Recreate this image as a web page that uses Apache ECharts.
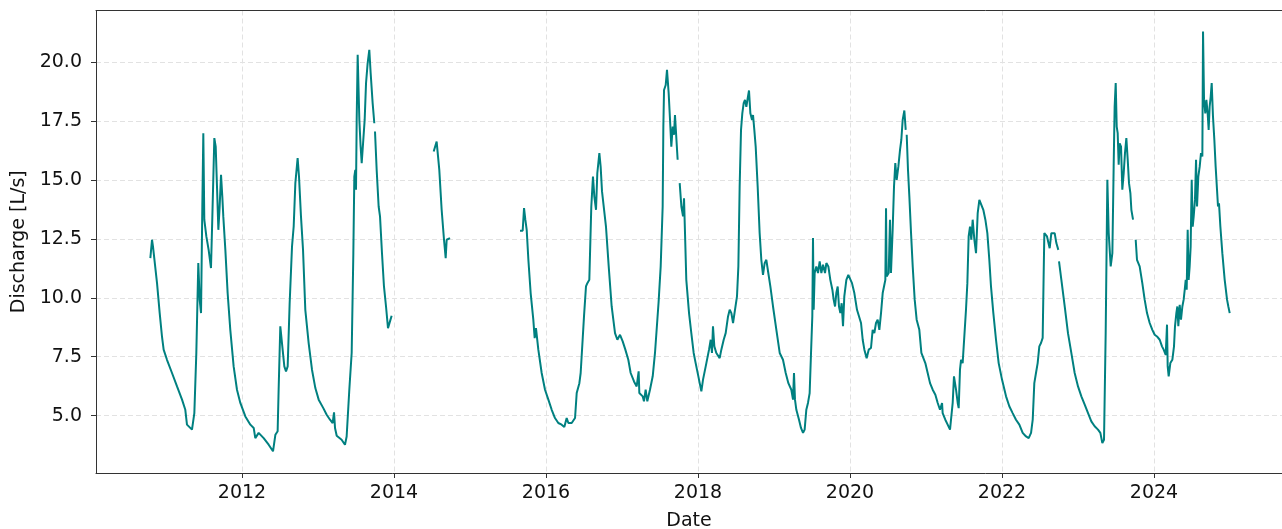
<!DOCTYPE html>
<html><head><meta charset="utf-8">
<script src="https://cdn.jsdelivr.net/npm/echarts@6/dist/echarts.min.js"></script>
<style>html,body{margin:0;padding:0;background:#fff}#c{width:1282px;height:529px}</style>
</head><body><div id="c"></div>
<script>
const xTicks = [2012, 2014, 2016, 2018, 2020, 2022, 2024];
const yTicks = [5, 7.5, 10, 12.5, 15, 17.5, 20];

// decimal years; null marks a gap in the record
const years = [
2010.794,2010.816,2010.829,2010.882,2010.917,2010.947,2010.969,2011.013,2011.079,2011.145,2011.211,2011.254,2011.276,2011.342,2011.373,2011.399,2011.425,2011.443,2011.461,2011.478,2011.491,2011.504,2011.531,2011.561,2011.592,2011.610,2011.636,2011.654,2011.671,2011.689,2011.706,2011.724,2011.741,2011.754,2011.781,2011.811,2011.846,2011.890,2011.934,2011.978,2012.044,2012.110,2012.154,2012.175,2012.219,2012.285,2012.351,2012.408,2012.439,2012.469,2012.482,2012.504,2012.526,2012.557,2012.579,2012.601,2012.627,2012.658,2012.680,2012.702,2012.732,2012.750,2012.776,2012.803,2012.833,2012.877,2012.921,2012.965,2013.009,
2013.070,2013.114,2013.158,2013.193,2013.211,2013.224,2013.246,2013.311,2013.355,2013.377,2013.412,2013.443,2013.465,2013.478,2013.491,2013.500,2013.509,2013.522,2013.544,2013.561,2013.575,2013.596,2013.614,2013.632,2013.653,2013.675,2013.693,2013.719,2013.741,2013.745,2013.750,2013.772,2013.798,2013.816,2013.842,2013.868,2013.895,2013.921,2013.947,2013.969,2014.2,
2014.522,2014.561,2014.575,2014.596,2014.627,2014.658,2014.680,2014.693,2014.737,2015.2,
2015.658,2015.693,2015.711,2015.728,2015.746,2015.768,2015.798,2015.833,2015.851,2015.868,2015.899,2015.943,2015.987,2016.031,2016.075,2016.118,2016.162,2016.206,2016.241,2016.272,2016.294,2016.338,2016.382,2016.404,2016.439,2016.456,2016.482,2016.500,2016.526,2016.544,2016.570,2016.596,2016.618,2016.636,2016.658,2016.675,2016.702,2016.719,2016.737,2016.763,2016.789,2016.825,2016.864,2016.908,2016.939,2016.974,2017.009,2017.044,2017.083,2017.114,2017.158,2017.193,2017.219,2017.228,2017.272,2017.289,2017.311,2017.333,2017.368,2017.404,2017.434,2017.465,2017.482,2017.509,2017.535,2017.544,2017.553,2017.575,2017.592,2017.614,2017.632,2017.649,2017.667,2017.684,2017.697,2017.711,2017.732,2017.745,
2017.759,2017.781,2017.803,2017.816,2017.829,2017.846,2017.882,2017.912,2017.943,2017.969,2018.000,2018.022,2018.044,2018.066,2018.110,2018.145,2018.167,2018.184,2018.197,2018.215,2018.241,2018.263,2018.285,2018.307,2018.338,2018.364,2018.395,2018.417,2018.439,2018.461,2018.487,2018.513,2018.531,2018.548,2018.566,2018.583,2018.601,2018.618,2018.636,2018.654,2018.671,2018.689,2018.711,2018.724,2018.741,2018.759,2018.785,2018.811,2018.833,2018.855,2018.877,2018.899,2018.925,2018.952,2018.987,2019.031,2019.075,2019.118,2019.154,2019.189,2019.228,2019.250,2019.263,2019.276,2019.294,2019.329,2019.355,2019.382,2019.403,2019.425,2019.447,2019.469,2019.487,2019.504,2019.513,2019.522,2019.535,2019.557,2019.579,2019.601,2019.623,2019.645,2019.671,2019.689,2019.715,2019.741,2019.768,2019.785,2019.803,2019.820,2019.838,2019.855,2019.873,2019.890,2019.908,2019.925,2019.952,2019.978,2020.000,2020.026,2020.057,2020.092,
2020.145,2020.167,2020.189,2020.219,2020.246,2020.276,2020.298,2020.320,2020.342,2020.364,2020.386,2020.408,2020.430,2020.452,2020.465,2020.474,2020.482,2020.509,2020.526,2020.539,2020.561,2020.579,2020.596,2020.614,2020.636,2020.658,2020.675,2020.693,2020.715,2020.733,2020.740,
2020.746,2020.763,2020.781,2020.803,2020.825,2020.851,2020.877,2020.912,2020.939,2020.965,2020.991,2021.022,2021.053,2021.088,2021.123,2021.154,2021.184,2021.211,2021.219,2021.254,2021.285,2021.316,2021.333,2021.351,2021.368,2021.395,2021.417,2021.430,2021.447,2021.461,2021.482,2021.504,2021.526,2021.544,2021.561,2021.579,2021.596,2021.614,2021.636,2021.658,2021.680,2021.702,2021.728,2021.754,2021.781,2021.807,2021.833,2021.855,2021.886,2021.921,2021.956,2022.000,2022.053,2022.096,2022.140,2022.184,2022.228,2022.272,2022.316,2022.351,2022.382,2022.404,2022.425,2022.447,2022.469,2022.491,2022.513,2022.535,2022.548,
2022.557,2022.575,2022.592,2022.610,2022.627,2022.649,2022.671,2022.693,2022.715,2022.741,2022.745,
2022.750,2022.781,2022.825,2022.868,2022.912,2022.956,2023.000,2023.044,2023.088,2023.132,2023.175,2023.219,2023.263,2023.294,2023.320,2023.342,2023.364,2023.386,2023.404,2023.430,2023.452,2023.469,2023.482,2023.496,2023.509,2023.522,2023.535,2023.548,2023.566,2023.583,2023.601,2023.618,2023.636,2023.654,2023.671,2023.689,2023.702,2023.724,2023.742,
2023.759,2023.776,2023.811,2023.846,2023.877,2023.908,2023.943,2023.978,2024.009,2024.039,2024.075,2024.105,2024.127,2024.154,2024.171,2024.180,2024.193,2024.215,2024.241,2024.263,2024.276,2024.294,2024.307,2024.320,2024.338,2024.355,2024.373,2024.390,2024.404,2024.417,2024.430,2024.443,2024.456,2024.469,2024.482,2024.496,2024.509,2024.522,2024.539,2024.553,2024.566,2024.583,2024.601,2024.618,2024.636,2024.645,2024.658,2024.675,2024.689,2024.706,2024.719,2024.732,2024.746,2024.759,2024.776,2024.794,2024.811,2024.829,2024.842,2024.855,2024.873,2024.899,2024.930,2024.961,2024.978,2024.996
];

// discharge [L/s]
const discharge = [
11.68,12.46,12.17,10.62,9.35,8.36,7.80,7.37,6.81,6.24,5.68,5.25,4.62,4.41,5.11,7.66,11.47,9.92,9.35,13.87,16.98,13.31,12.60,12.03,11.26,13.45,16.77,16.41,14.72,12.88,13.87,15.21,14.29,13.45,12.03,10.20,8.64,7.09,6.10,5.54,4.97,4.62,4.48,4.05,4.27,4.05,3.77,3.49,4.19,4.34,6.10,8.79,8.08,7.09,6.88,7.09,9.77,12.17,13.02,14.86,15.92,15.14,13.45,12.03,9.49,8.08,6.95,6.17,5.68,
5.32,5.04,4.83,4.69,5.14,4.48,4.15,3.98,3.77,4.12,6.10,7.66,11.89,15.14,15.42,14.58,17.54,20.30,17.54,16.41,15.71,16.69,17.54,19.10,19.94,20.51,19.52,18.25,17.40,null,17.05,15.42,13.87,13.45,11.89,10.48,9.63,8.71,9.00,9.24,null,
16.20,16.62,16.69,15.42,13.73,12.46,11.68,12.46,12.53,null,
12.84,12.84,13.80,13.31,12.88,11.61,10.20,9.07,8.29,8.71,7.80,6.81,6.10,5.68,5.25,4.90,4.69,4.62,4.52,4.90,4.69,4.69,4.90,5.96,6.38,6.81,8.22,9.21,10.48,10.62,10.76,13.87,15.14,14.29,13.73,15.28,16.13,15.56,14.51,14.44,13.02,11.33,9.63,8.50,8.22,8.43,8.15,7.80,7.37,6.81,6.45,6.24,6.88,5.96,5.82,5.61,6.10,5.61,6.10,6.67,7.66,9.07,9.84,11.33,13.87,17.26,18.81,19.02,19.66,18.67,17.54,16.41,17.26,16.91,17.75,16.98,15.85,null,
14.86,13.87,13.45,14.22,12.74,10.76,9.35,8.50,7.66,7.23,6.74,6.81,6.03,6.53,7.23,7.80,8.22,7.66,8.79,7.94,7.66,7.73,7.44,7.80,8.22,8.50,9.21,9.49,9.35,8.93,8.93,10.06,11.33,14.72,17.12,17.82,18.25,18.39,18.10,18.46,18.79,17.82,17.54,17.75,17.12,16.41,14.72,12.74,11.61,10.97,11.47,11.61,11.05,10.48,9.63,8.64,7.66,7.37,6.81,6.38,6.10,5.68,6.81,5.68,5.25,4.83,4.48,4.27,4.41,5.25,5.54,5.96,7.66,9.21,12.53,9.49,11.05,11.33,11.05,11.54,11.05,11.40,11.05,11.47,11.33,10.76,10.34,9.92,9.63,10.20,10.48,9.63,9.35,9.77,8.79,10.06,10.76,10.97,10.90,10.62,10.20,9.49,
8.93,8.22,7.80,7.44,7.80,7.87,8.64,8.50,8.93,9.07,8.64,9.35,10.20,10.55,10.76,13.80,10.90,11.05,13.31,11.05,12.88,14.72,15.71,15.00,15.56,16.27,16.69,17.54,17.94,17.12,null,
16.91,15.42,14.29,12.74,11.33,9.92,9.07,8.64,7.66,7.66,7.23,6.81,6.38,6.10,5.89,5.54,5.25,5.54,5.11,4.83,4.62,4.41,4.34,5.54,6.67,6.10,5.54,5.32,6.95,7.37,7.23,8.36,9.49,10.62,12.60,13.02,12.46,13.31,12.46,11.89,13.59,14.15,14.08,13.73,13.31,12.74,11.61,10.48,9.35,8.22,7.23,6.53,5.82,5.40,5.11,4.83,4.62,4.27,4.12,4.05,4.27,4.83,6.38,6.81,7.23,7.94,8.08,8.30,11.00,
12.74,12.81,12.60,12.67,12.10,12.74,12.81,12.74,12.32,12.03,null,
11.54,10.76,9.63,8.50,7.66,6.81,6.24,5.82,5.47,5.11,4.76,4.55,4.41,4.27,3.84,3.98,8.50,15.00,12.74,11.33,11.89,15.56,18.11,19.10,17.26,16.98,15.64,16.55,16.41,14.58,15.28,16.13,16.77,15.85,14.86,14.44,13.73,13.31,null,
12.46,11.61,11.33,10.62,9.92,9.35,8.93,8.64,8.43,8.36,8.22,7.94,7.80,7.58,8.86,7.09,6.67,7.23,7.37,7.94,8.79,9.35,9.63,8.79,9.70,9.07,9.63,9.92,10.34,10.76,10.34,12.88,10.76,11.33,12.17,15.00,13.02,13.45,14.15,15.85,13.87,15.14,15.56,16.13,15.99,21.29,18.39,17.82,18.39,17.82,17.12,18.11,18.53,19.10,17.68,16.69,15.56,14.58,13.87,14.01,13.02,11.89,10.76,9.92,9.63,9.35
];

const seriesData = years.map((t, i) => [t, discharge[i] === null ? '-' : discharge[i]]);

const FONT = 'DejaVu Sans';
const TXT = '#111111';
const X_MIN = 2010.079, X_MAX = 2025.684;
const chart = echarts.init(document.getElementById('c'), null, {renderer: 'canvas'});
chart.setOption({
  animation: false,
  backgroundColor: '#ffffff',
  grid: {
    left: 96, right: 0, top: 10.5, bottom: 56,
    show: false, containLabel: false, outerBoundsMode: 'none'
  },
  xAxis: [{
    type: 'value', min: X_MIN, max: X_MAX,
    name: 'Date', nameLocation: 'middle', nameGap: 39,
    nameTextStyle: {fontFamily: FONT, fontSize: 19, color: TXT},
    axisLine: {show: true, onZero: false, lineStyle: {color: '#333333', width: 1}},
    axisTick: {show: true, customValues: xTicks, length: 5, lineStyle: {color: '#333333', width: 1}},
    axisLabel: {customValues: xTicks, fontFamily: FONT, fontSize: 19, color: TXT, margin: 11,
      formatter: v => String(Math.round(v))},
    splitLine: {show: true, customValues: xTicks, lineStyle: {color: '#e2e2e2', type: [5, 3], width: 1}}
  }, {
    type: 'value', min: X_MIN, max: X_MAX, position: 'top',
    axisLine: {show: true, onZero: false, lineStyle: {color: '#333333', width: 1}},
    axisTick: {show: false}, axisLabel: {show: false}, splitLine: {show: false}
  }],
  yAxis: {
    type: 'value', min: 2.57, max: 22.18,
    name: 'Discharge [L/s]', nameLocation: 'middle', nameGap: 62,
    nameTextStyle: {fontFamily: FONT, fontSize: 19, color: TXT},
    axisLine: {show: true, onZero: false, lineStyle: {color: '#333333', width: 1}},
    axisTick: {show: true, customValues: yTicks, length: 5, lineStyle: {color: '#333333', width: 1}},
    axisLabel: {customValues: yTicks, fontFamily: FONT, fontSize: 19, color: TXT, margin: 14,
      formatter: v => Number(v).toFixed(1)},
    splitLine: {show: true, customValues: yTicks, lineStyle: {color: '#e2e2e2', type: [5, 3], width: 1}}
  },
  series: [{
    type: 'line', xAxisIndex: 0, data: seriesData, showSymbol: false, symbol: 'none',
    connectNulls: false, clip: true,
    lineStyle: {color: '#008080', width: 2}
  }]
});
</script>
</body></html>
